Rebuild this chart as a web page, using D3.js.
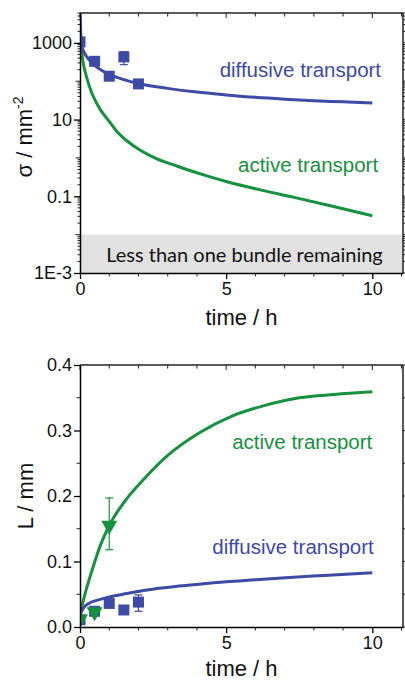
<!DOCTYPE html>
<html>
<head>
<meta charset="utf-8">
<script src="https://cdn.jsdelivr.net/npm/d3@7"></script>
<style>
  body { margin: 0; background: #fff; }
  svg { display: block; }
  text { font-family: "Liberation Sans", Arial, sans-serif; }
</style>
</head>
<body>
<div id="chart"></div>
<script>
// ---- data ----
const timeTickLabels = [0, 5, 10];
const sigmaTickValues = [1e-3, 0.1, 10, 1000];
const sigmaTickLabels = ['1E-3', '0.1', '10', '1000'];
const lengthTickValues = [0, 0.1, 0.2, 0.3, 0.4];
const lengthTickLabels = ['0.0', '0.1', '0.2', '0.3', '0.4'];

// top panel, sigma (per mm^2) vs time (h)
const diffSigmaCurveT = [0, 0.03, 0.07, 0.15, 0.3, 0.5, 0.75, 1, 1.5, 2, 3, 4, 5, 6, 7, 8, 9, 10];
const diffSigmaCurve  = [6000, 1500, 800, 550, 370, 260, 190, 150, 110, 87, 65, 52, 44, 38, 34, 31, 29, 27];
const activeSigmaCurveT = [0, 0.05, 0.11, 0.25, 0.4, 0.68, 1, 1.27, 1.6, 2.05, 2.63, 3.2, 3.76, 4.4, 5.03, 6.2, 7.29, 8.6, 10];
const activeSigmaCurve  = [800, 600, 300, 110, 50, 19, 9, 4.8, 2.8, 1.6, 0.94, 0.66, 0.47, 0.33, 0.24, 0.145, 0.095, 0.056, 0.031];
const diffSigmaT    = [0, 0.5, 1, 1.5, 2];
const diffSigma     = [1060, 330, 135, 430, 85];
const diffSigmaErrT = [1.5];
const diffSigmaLo   = [270];
const diffSigmaHi   = [585];
const bandLow = 1e-3, bandHigh = 0.01;

// bottom panel, L (mm) vs time (h)
const diffLenCurveT = [0, 0.1, 0.3, 0.6, 1, 1.6, 2.7, 4, 5, 6, 7.3, 8.5, 10];
const diffLenCurve  = [0.018, 0.028, 0.036, 0.041, 0.046, 0.051, 0.059, 0.065, 0.069, 0.072, 0.076, 0.079, 0.083];
const activeLenCurveT = [0, 0.2, 0.45, 0.7, 1, 1.5, 2.15, 3, 4.1, 5.2, 6.3, 7.5, 8.7, 10];
const activeLenCurve  = [0.02, 0.055, 0.092, 0.125, 0.155, 0.19, 0.224, 0.262, 0.297, 0.322, 0.338, 0.35, 0.355, 0.359];
const diffLenT  = [0, 0.5, 1, 1.5, 2];
const diffLen   = [0.011, 0.024, 0.036, 0.026, 0.038];
const diffLenErrT = [2];
const diffLenLo   = [0.024];
const diffLenHi   = [0.049];
const activeLenT  = [0, 0.5, 1];
const activeLen   = [0.012, 0.023, 0.155];
const activeLenErrT = [1];
const activeLenLo   = [0.118];
const activeLenHi   = [0.197];

// ---- layout ----
const width = 405, height = 680;
const blue = '#3d4aa6', green = '#16913e';

const svg = d3.select('#chart').append('svg')
    .attr('width', width)
    .attr('height', height);

const x1 = d3.scaleLinear().domain([0, 11.05]).range([80, 403]);
const y1 = d3.scaleLog().domain([1e-3, 6000]).range([273, 13]);
const x2 = d3.scaleLinear().domain([0, 11.05]).range([80, 403]);
const y2 = d3.scaleLinear().domain([0, 0.4]).range([627, 365]);

function zip(a, b) { return a.map((v, i) => [v, b[i]]); }

// clip paths for both plot areas
const defs = svg.append('defs');
defs.append('clipPath').attr('id', 'clipTop').append('rect')
    .attr('x', 80).attr('y', 13).attr('width', 323).attr('height', 260);
defs.append('clipPath').attr('id', 'clipBottom').append('rect')
    .attr('x', 80).attr('y', 365).attr('width', 323).attr('height', 262);

// draws the box, ticks and labels around one panel
function frame(x, y, leftTicks, leftLabels, minorY) {
    const [xl, xr] = x.range();
    const [yb, yt] = y.range();
    const g = svg.append('g').attr('class', 'frame');

    // bottom axis, major + minor ticks outward
    g.append('g')
        .attr('transform', 'translate(0,' + yb + ')')
        .call(d3.axisBottom(x).tickValues(timeTickLabels).tickSize(6).tickSizeOuter(0).tickPadding(3))
        .call(a => a.select('.domain').attr('stroke-width', 1.5))
        .call(a => a.selectAll('.tick line').attr('stroke-width', 1.3))
        .call(a => a.selectAll('text').attr('font-size', 18).attr('fill', '#111'));
    g.append('g').selectAll('line')
        .data(d3.range(0, 12).filter(v => v % 5 !== 0))
        .join('line')
        .attr('x1', d => x(d)).attr('x2', d => x(d))
        .attr('y1', yb).attr('y2', yb + 3.5)
        .attr('stroke', '#222');

    // top line with inward ticks
    g.append('line').attr('x1', xl).attr('x2', xr).attr('y1', yt).attr('y2', yt)
        .attr('stroke', '#222').attr('stroke-width', 1.5);
    g.append('g').selectAll('line')
        .data(d3.range(0, 12))
        .join('line')
        .attr('x1', d => x(d)).attr('x2', d => x(d))
        .attr('y1', yt).attr('y2', d => yt + (d % 5 === 0 ? 5 : 3.5))
        .attr('stroke', '#222');

    // left axis
    g.append('g')
        .attr('transform', 'translate(' + xl + ',0)')
        .call(d3.axisLeft(y).tickValues(leftTicks).tickFormat((d, i) => leftLabels[i])
            .tickSize(6).tickSizeOuter(0).tickPadding(2))
        .call(a => a.select('.domain').attr('stroke-width', 1.5))
        .call(a => a.selectAll('.tick line').attr('stroke-width', 1.3))
        .call(a => a.selectAll('text').attr('font-size', 18).attr('fill', '#111'));

    // right line
    g.append('line').attr('x1', xr).attr('x2', xr).attr('y1', yt).attr('y2', yb)
        .attr('stroke', '#222').attr('stroke-width', 1.5);

    // minor ticks on left and right
    g.append('g').selectAll('line')
        .data(minorY)
        .join('line')
        .attr('x1', d => xl - d[1]).attr('x2', xl)
        .attr('y1', d => y(d[0])).attr('y2', d => y(d[0]))
        .attr('stroke', '#222');
    g.append('g').selectAll('line')
        .data(minorY.concat(leftTicks.map(v => [v, 6])))
        .join('line')
        .attr('x1', xr).attr('x2', d => xr + d[1])
        .attr('y1', d => y(d[0])).attr('y2', d => y(d[0]))
        .attr('stroke', '#222');
}

// ---- top panel ----
const topPanel = svg.append('g');

// grey band: less than one bundle
topPanel.append('rect')
    .attr('x', x1(0)).attr('y', y1(bandHigh))
    .attr('width', x1(11.05) - x1(0))
    .attr('height', y1(bandLow) - y1(bandHigh))
    .attr('fill', '#e1e1e1');
topPanel.append('text')
    .attr('x', (x1(0) + x1(11.05)) / 2 + 3)
    .attr('y', y1(bandLow) - 11)
    .attr('text-anchor', 'middle')
    .style('font-family', 'Lato, "Open Sans", sans-serif')
    .attr('font-size', 20)
    .attr('fill', '#111')
    .text('Less than one bundle remaining');

// log minor ticks: decades without label get a medium tick, 2..9 get short ones
const logMinor = [];
for (let e = -3; e <= 3; e++) {
    const dec = Math.pow(10, e);
    if (!sigmaTickValues.includes(dec)) logMinor.push([dec, 4.5]);
    for (let m = 2; m <= 9; m++) {
        const v = m * dec;
        if (v <= 6000) logMinor.push([v, 2.5]);
    }
}

const topPlot = topPanel.append('g').attr('clip-path', 'url(#clipTop)');
const lineTop = d3.line().x(d => x1(d[0])).y(d => y1(d[1])).curve(d3.curveMonotoneX);

topPlot.append('path')
    .datum(zip(activeSigmaCurveT, activeSigmaCurve))
    .attr('d', lineTop)
    .attr('fill', 'none').attr('stroke', green).attr('stroke-width', 3);
topPlot.append('path')
    .datum(zip(diffSigmaCurveT, diffSigmaCurve))
    .attr('d', lineTop)
    .attr('fill', 'none').attr('stroke', blue).attr('stroke-width', 3);

// error bars
diffSigmaErrT.forEach((t, i) => {
    const eg = topPlot.append('g').attr('stroke', blue).attr('stroke-width', 1.2);
    eg.append('line').attr('x1', x1(t)).attr('x2', x1(t)).attr('y1', y1(diffSigmaLo[i])).attr('y2', y1(diffSigmaHi[i]));
    [diffSigmaLo[i], diffSigmaHi[i]].forEach(v => eg.append('line')
        .attr('x1', x1(t) - 4).attr('x2', x1(t) + 4).attr('y1', y1(v)).attr('y2', y1(v)));
});

topPlot.append('g').selectAll('path')
    .data(zip(diffSigmaT, diffSigma))
    .join('path')
    .attr('d', d3.symbol(d3.symbolSquare, 121))
    .attr('transform', d => 'translate(' + x1(d[0]) + ',' + y1(d[1]) + ')')
    .attr('fill', blue);

frame(x1, y1, sigmaTickValues, sigmaTickLabels, logMinor);

topPanel.append('text')
    .attr('x', x1(10.3)).attr('y', 77)
    .attr('text-anchor', 'end')
    .attr('font-size', 20.5)
    .attr('fill', blue)
    .text('diffusive transport');
topPanel.append('text')
    .attr('x', x1(10.2)).attr('y', 172)
    .attr('text-anchor', 'end')
    .attr('font-size', 20.5)
    .attr('fill', green)
    .text('active transport');

const sigmaLabel = topPanel.append('text')
    .attr('transform', 'translate(32,137) rotate(-90)')
    .attr('text-anchor', 'middle')
    .attr('font-size', 22)
    .attr('fill', '#111');
sigmaLabel.append('tspan').text('σ / mm');
sigmaLabel.append('tspan').attr('font-size', 14).attr('dy', -9).text('-2');

topPanel.append('text')
    .attr('x', (x1(0) + x1(11.05)) / 2).attr('y', 325)
    .attr('text-anchor', 'middle')
    .attr('font-size', 22)
    .attr('fill', '#111')
    .text('time / h');

// ---- bottom panel ----
const bottomPanel = svg.append('g');
const linearMinor = d3.range(0.05, 0.4, 0.1).map(v => [v, 3.5]);

const botPlot = bottomPanel.append('g').attr('clip-path', 'url(#clipBottom)');
const lineBot = d3.line().x(d => x2(d[0])).y(d => y2(d[1])).curve(d3.curveMonotoneX);

botPlot.append('path')
    .datum(zip(activeLenCurveT, activeLenCurve))
    .attr('d', lineBot)
    .attr('fill', 'none').attr('stroke', green).attr('stroke-width', 3);
botPlot.append('path')
    .datum(zip(diffLenCurveT, diffLenCurve))
    .attr('d', lineBot)
    .attr('fill', 'none').attr('stroke', blue).attr('stroke-width', 3);

function errBars(g, ts, lo, hi, color) {
    ts.forEach((t, i) => {
        const eg = g.append('g').attr('stroke', color).attr('stroke-width', 1.2);
        eg.append('line').attr('x1', x2(t)).attr('x2', x2(t)).attr('y1', y2(lo[i])).attr('y2', y2(hi[i]));
        [lo[i], hi[i]].forEach(v => eg.append('line')
            .attr('x1', x2(t) - 4).attr('x2', x2(t) + 4).attr('y1', y2(v)).attr('y2', y2(v)));
    });
}
errBars(botPlot, diffLenErrT, diffLenLo, diffLenHi, blue);
errBars(botPlot, activeLenErrT, activeLenLo, activeLenHi, green);

botPlot.append('g').selectAll('path')
    .data(zip(diffLenT, diffLen))
    .join('path')
    .attr('d', d3.symbol(d3.symbolSquare, 121))
    .attr('transform', d => 'translate(' + x2(d[0]) + ',' + y2(d[1]) + ')')
    .attr('fill', blue);
botPlot.append('g').selectAll('path')
    .data(zip(activeLenT, activeLen))
    .join('path')
    .attr('d', d3.symbol(d3.symbolTriangle, 110))
    .attr('transform', d => 'translate(' + x2(d[0]) + ',' + y2(d[1]) + ') rotate(180)')
    .attr('fill', green);

frame(x2, y2, lengthTickValues, lengthTickLabels, linearMinor);

bottomPanel.append('text')
    .attr('x', x2(10.05)).attr('y', 554)
    .attr('text-anchor', 'end')
    .attr('font-size', 20.5)
    .attr('fill', blue)
    .text('diffusive transport');
bottomPanel.append('text')
    .attr('x', x2(10)).attr('y', 449)
    .attr('text-anchor', 'end')
    .attr('font-size', 20.5)
    .attr('fill', green)
    .text('active transport');

bottomPanel.append('text')
    .attr('transform', 'translate(33,496) rotate(-90)')
    .attr('text-anchor', 'middle')
    .attr('font-size', 22)
    .attr('fill', '#111')
    .text('L / mm');

bottomPanel.append('text')
    .attr('x', (x2(0) + x2(11.05)) / 2).attr('y', 676)
    .attr('text-anchor', 'middle')
    .attr('font-size', 22)
    .attr('fill', '#111')
    .text('time / h');
</script>
</body>
</html>
